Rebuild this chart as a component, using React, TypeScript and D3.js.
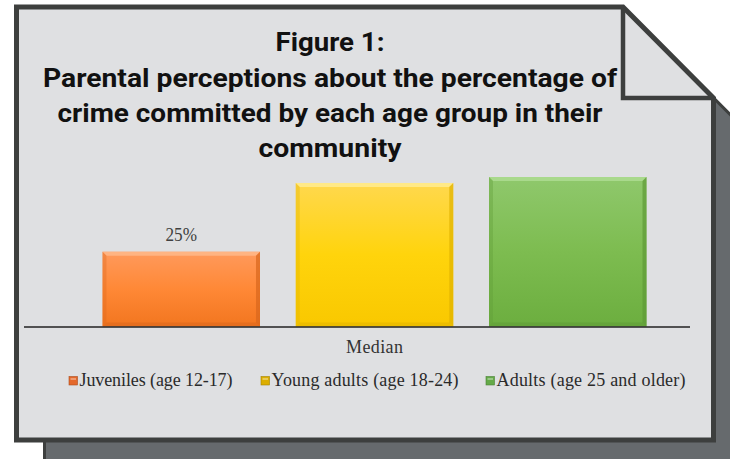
import React from "react";
import * as d3 from "d3";

// ---- data ----
const categories = ["Median"];
const seriesNames = [
  "Juveniles (age 12-17)",
  "Young adults (age 18-24)",
  "Adults (age 25 and older)",
];
const seriesValues = [25, 48, 50];
const dataLabels = ["25%", "", ""];
const titleLines = [
  "Figure 1:",
  "Parental perceptions about the percentage of",
  "crime committed by each age group in their",
  "community",
];

// ---- styles ----
const W = 730;
const H = 459;
const paperFill = "#dfe0e2";
const borderCol = "#3d3f3e";
const shadowFill = "#666a6d";
const serif = "'Liberation Serif', 'DejaVu Serif', serif";
const sans = "Roboto, 'Open Sans', sans-serif";
const barColors = [
  { top: "#ff9a5c", mid: "#ff8836", bot: "#f2761f", hi: "#ffb98a", edge: "#d9661c" },
  { top: "#ffd84e", mid: "#ffd40c", bot: "#f9c800", hi: "#ffec92", edge: "#e0b200" },
  { top: "#8fc86c", mid: "#7dbc50", bot: "#6cae3f", hi: "#aedc92", edge: "#5e9a36" },
];
const markerColors = ["#e4682a", "#dcae00", "#64aa48"];
const titleWidths = [109, 574, 545, 143];
const titleBaselines = [50.5, 86.5, 121.5, 156.5];
const legendX = [69, 261, 486];
const legendWidths = [153, 187, 189];

export default function App() {
  const x0 = d3.scaleBand().domain(categories).range([24, 725]).paddingOuter(0.1443);
  const x1 = d3
    .scaleBand()
    .domain(seriesNames)
    .range([0, x0.bandwidth()])
    .paddingInner(0.185)
    .paddingOuter(0);
  const y = d3.scaleLinear().domain([0, 50]).range([326.5, 177]);

  // paper outline
  const paper = d3.path();
  paper.moveTo(16.5, 7);
  paper.lineTo(623, 7);
  paper.lineTo(713.5, 98);
  paper.lineTo(713.5, 440);
  paper.lineTo(16.5, 440);
  paper.closePath();

  const dx = 28, dy = 28;
  const shadow = d3.path();
  shadow.moveTo(16.5 + dx, 7 + dy);
  shadow.lineTo(623 + dx, 7 + dy);
  shadow.lineTo(713.5 + dx + 40, 98 + dy + 40);
  shadow.lineTo(713.5 + dx + 40, 470);
  shadow.lineTo(16.5 + dx, 470);
  shadow.closePath();

  const cx = 330;
  const base = y(0);

  return (
    <svg
      width={W}
      height={H}
      style={{ position: "absolute", left: 0, top: 0, background: "#fff" }}
    >
      <defs>
        {barColors.map((c, i) => (
          <linearGradient key={i} id={`bg${i}`} x1="0" y1="0" x2="0" y2="1">
            <stop offset="0%" stopColor={c.top} />
            <stop offset="50%" stopColor={c.mid} />
            <stop offset="100%" stopColor={c.bot} />
          </linearGradient>
        ))}
      </defs>

      {/* shadow */}
      <path d={shadow.toString()} fill={shadowFill} stroke={borderCol} strokeWidth={3} />

      {/* paper */}
      <path d={paper.toString()} fill={paperFill} stroke={borderCol} strokeWidth={5} strokeLinejoin="miter" />

      {/* fold */}
      <path
        d={`M623,7 L623,98 L713.5,98`}
        fill="none"
        stroke={borderCol}
        strokeWidth={4.5}
      />

      {/* title */}
      {titleLines.map((t, i) => (
        <text
          key={i}
          x={cx}
          y={titleBaselines[i]}
          textAnchor="middle"
          fontFamily={sans}
          fontWeight={700}
          fontSize={25.5}
          fill="#111"
          textLength={titleWidths[i]}
          lengthAdjust="spacingAndGlyphs"
        >
          {t}
        </text>
      ))}

      {/* bars */}
      {categories.map((cat) => (
        <g key={cat} transform={`translate(${x0(cat)},0)`}>
          {seriesNames.map((s, i) => {
            const bx = x1(s) as number;
            const bw = x1.bandwidth();
            const by = y(seriesValues[i]);
            const bh = base - by;
            const c = barColors[i];
            const b = 4;
            return (
              <g key={s}>
                <rect x={bx} y={by} width={bw} height={bh} fill={`url(#bg${i})`} />
                {/* top bevel */}
                <path
                  d={`M${bx},${by} L${bx + bw},${by} L${bx + bw - b},${by + b} L${bx + b},${by + b} Z`}
                  fill={c.hi}
                  opacity={0.85}
                />
                {/* left bevel */}
                <path
                  d={`M${bx},${by} L${bx + b},${by + b} L${bx + b},${base - b} L${bx},${base} Z`}
                  fill={c.edge}
                  opacity={0.35}
                />
                {/* right bevel */}
                <path
                  d={`M${bx + bw},${by} L${bx + bw - b},${by + b} L${bx + bw - b},${base - b} L${bx + bw},${base} Z`}
                  fill={c.edge}
                  opacity={0.7}
                />
                {/* bottom bevel */}
                <path
                  d={`M${bx},${base} L${bx + b},${base - b} L${bx + bw - b},${base - b} L${bx + bw},${base} Z`}
                  fill={c.edge}
                  opacity={0.5}
                />
                {dataLabels[i] && (
                  <text
                    x={bx + bw / 2}
                    y={by - 11}
                    textAnchor="middle"
                    fontFamily={serif}
                    fontSize={18}
                    fill="#404040"
                    textLength={31.5}
                    lengthAdjust="spacingAndGlyphs"
                  >
                    {dataLabels[i]}
                  </text>
                )}
              </g>
            );
          })}
          <text
            x={x0.bandwidth() / 2}
            y={353}
            textAnchor="middle"
            fontFamily={serif}
            fontSize={18}
            fill="#333"
            textLength={57}
            lengthAdjust="spacing"
          >
            {cat}
          </text>
        </g>
      ))}

      {/* axis line */}
      <line x1={24} x2={690} y1={base + 0.5} y2={base + 0.5} stroke="#222" strokeWidth={1.3} />

      {/* legend */}
      {seriesNames.map((s, i) => (
        <g key={s}>
          <rect
            x={legendX[i]}
            y={376.5}
            width={8.5}
            height={8.5}
            fill={markerColors[i]}
            stroke={d3.color(markerColors[i])!.darker(0.8).toString()}
            strokeWidth={0.6}
          />
          <rect x={legendX[i] + 1.5} y={378} width={5.5} height={2} fill="#fff" opacity={0.35} />
          <text
            x={legendX[i] + 10.5}
            y={385.5}
            fontFamily={serif}
            fontSize={18}
            fill="#2a2a2a"
            textLength={legendWidths[i]}
            lengthAdjust="spacing"
          >
            {s}
          </text>
        </g>
      ))}
    </svg>
  );
}
